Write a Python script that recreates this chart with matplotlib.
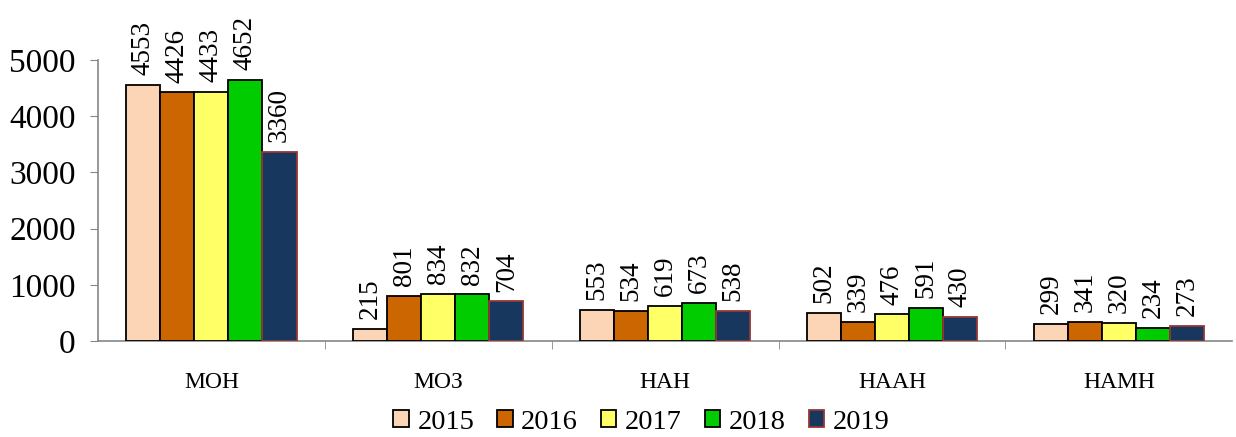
import numpy as np
import matplotlib.pyplot as plt

categories = ["МОН", "МОЗ", "НАН", "НААН", "НАМН"]
years = ["2015", "2016", "2017", "2018", "2019"]
values = {
    "2015": [4553, 215, 553, 502, 299],
    "2016": [4426, 801, 534, 339, 341],
    "2017": [4433, 834, 619, 476, 320],
    "2018": [4652, 832, 673, 591, 234],
    "2019": [3360, 704, 538, 430, 273],
}
colors = ["#FBD5B5", "#CC6600", "#FFFF66", "#00CC00", "#17375E"]
edges = ["black", "black", "black", "black", "#953735"]

plt.rcParams['font.family'] = ['Liberation Serif', 'DejaVu Serif']

fig = plt.figure(figsize=(12.36, 4.37), dpi=100)
ax = fig.add_axes([0.0793, 0.2197, 0.9177, 0.643])

x = np.arange(len(categories))
w = 0.15
for i, yr in enumerate(years):
    pos = x + (i - 2) * w
    bars = ax.bar(pos, values[yr], width=w, color=colors[i], edgecolor=edges[i],
                  linewidth=1.3, label=yr, zorder=3)
    ax.bar_label(bars, labels=[str(v) for v in values[yr]], rotation=90,
                 padding=7, fontsize=19.5)

ax.set_xlim(-0.5, len(categories) - 0.5)
ax.set_ylim(0, 5000)
ax.set_yticks(range(0, 5001, 1000))
ax.tick_params(axis='y', labelsize=24, length=6, color='#868686', pad=10)
ax.set_xticks(x)
ax.set_xticklabels(categories, fontsize=17)
ax.tick_params(axis='x', length=0, pad=22)
ax.set_xticks(np.arange(0.5, len(categories) - 0.5, 1), minor=True)
ax.tick_params(axis='x', which='minor', length=6, color='#868686')
for s in ['top', 'right']:
    ax.spines[s].set_visible(False)
for s in ['left', 'bottom']:
    ax.spines[s].set_color('#868686')
    ax.spines[s].set_linewidth(1.2)

ax.legend(loc='lower center', bbox_to_anchor=(0.479, -0.395), ncol=5, frameon=False,
          fontsize=20.5, handlelength=0.55, handleheight=0.55, handletextpad=0.3,
          columnspacing=0.8, borderpad=0.1)

fig.savefig("out.png", dpi=100)
